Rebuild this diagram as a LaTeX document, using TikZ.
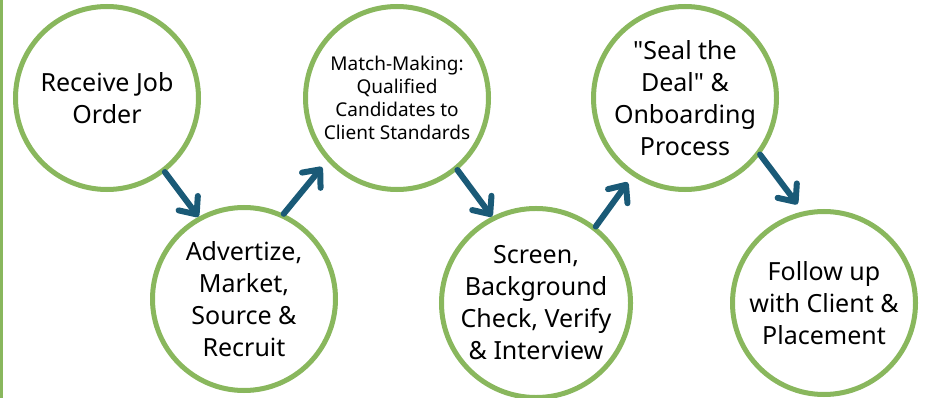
\documentclass[tikz,border=0pt]{standalone}
\usepackage{fontspec}
\setmainfont{Noto Sans}
\usetikzlibrary{arrows.meta}
\definecolor{ringgreen}{RGB}{137,183,93}
\definecolor{arrowblue}{RGB}{26,90,119}
\tikzset{
  stage/.style={circle, draw=ringgreen, line width=5pt, minimum size=183pt, inner sep=0pt,
    align=center, text=black, font=\fontsize{25}{32}\selectfont},
  smalltext/.style={font=\fontsize{19}{23}\selectfont},
  flow/.style={draw=arrowblue, line width=6pt, line cap=round,
    -{Straight Barb[length=14pt,width=24pt,round]}}
}
\begin{document}
\begin{tikzpicture}[x=1pt,y=-1pt]
\useasboundingbox (0,0) rectangle (926,398);
\fill[ringgreen] (0,0) rectangle (3,398);
\node[stage] (c1) at (107,98) {Receive Job\\Order};
\node[stage] (c2) at (244,299) {Advertize,\\Market,\\Source \&\\Recruit};
\node[stage, smalltext] (c3) at (397,98) {Match-Making:\\Qualified\\Candidates to\\Client Standards};
\node[stage] (c4) at (536,303) {Screen,\\Background\\Check, Verify\\\& Interview};
\node[stage] (c5) at (685,98) {\textquotedbl Seal the\\Deal\textquotedbl{} \&\\Onboarding\\Process};
\node[stage] (c6) at (824,303) {Follow up\\with Client \&\\Placement};
\draw[flow] (c1.-52) -- (c2.119);
\draw[flow, shorten >=8pt] (c2.65) -- (c3.222);
\draw[flow] (c3.-50) -- (c4.117);
\draw[flow, shorten >=8pt] (c4.52) -- (c5.236);
\draw[flow, shorten >=9pt] (c5.-37) -- (c6.103);
\end{tikzpicture}
\end{document}
